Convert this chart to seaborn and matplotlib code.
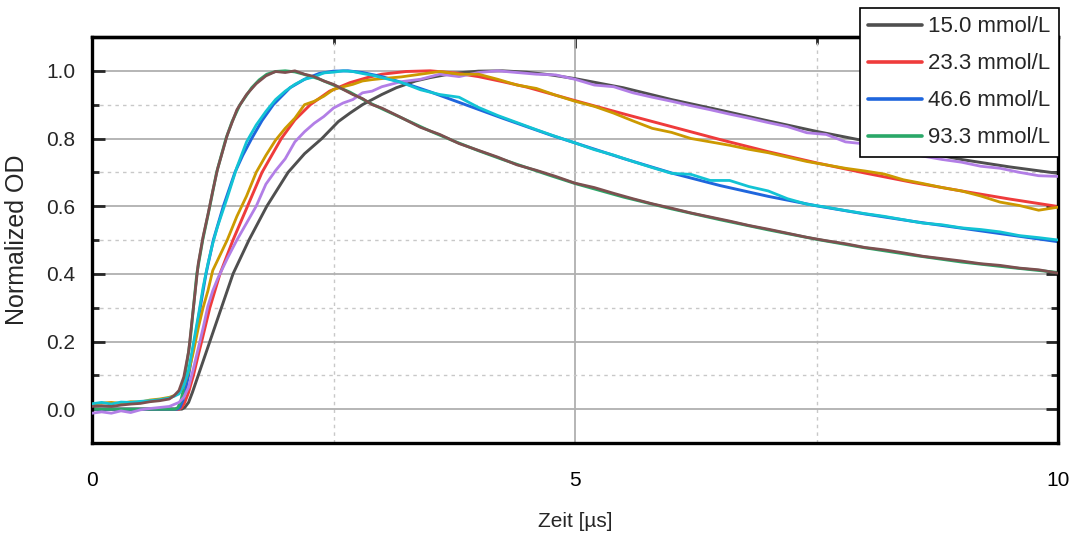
import matplotlib
matplotlib.use("Agg")
import matplotlib.pyplot as plt
from matplotlib import font_manager as fm
import seaborn as sns

# ---------------- data ----------------
labels = ["15.0 mmol/L", "23.3 mmol/L", "46.6 mmol/L", "93.3 mmol/L"]

# fitted curves (each with its own time grid, µs)
t_fit_150 = [0, 0.93, 0.96, 1.0, 1.04, 1.1, 1.16, 1.22, 1.34, 1.46, 1.625, 1.81, 2.03, 2.2, 2.38, 2.55, 2.67,
             2.8, 3.0, 3.15, 3.35, 3.5, 3.75, 4.0, 4.25, 4.5, 4.75, 5.0, 5.5, 6.0, 6.5, 7.0, 7.5, 8.0, 8.5,
             9.0, 9.5, 10.0]
v_fit_150 = [0, 0, 0.005, 0.02, 0.05, 0.1, 0.15, 0.2, 0.3, 0.4, 0.5, 0.6, 0.7, 0.755, 0.8, 0.85, 0.875,
             0.9, 0.93, 0.95, 0.97, 0.98, 0.993, 0.999, 1.0, 0.996, 0.988, 0.977, 0.95, 0.915, 0.884, 0.852,
             0.821, 0.793, 0.765, 0.738, 0.716, 0.697]

t_fit_233 = [0, 0.9, 0.93, 0.96, 1.0, 1.05, 1.1, 1.135, 1.22, 1.325, 1.46, 1.61, 1.76, 1.96, 2.1, 2.26, 2.46,
             2.67, 2.85, 3.0, 3.25, 3.5, 3.75, 4.0, 4.25, 4.5, 4.75, 5.0, 5.5, 6.0, 6.5, 7.0, 7.5, 8.0, 8.5,
             9.0, 9.5, 10.0]
v_fit_233 = [0, 0, 0.005, 0.02, 0.05, 0.1, 0.16, 0.2, 0.3, 0.4, 0.5, 0.6, 0.7, 0.8, 0.855, 0.9, 0.94,
             0.965, 0.98, 0.99, 0.998, 1.0, 0.994, 0.983, 0.968, 0.952, 0.932, 0.912, 0.873, 0.835, 0.797,
             0.761, 0.728, 0.698, 0.67, 0.645, 0.621, 0.599]

t_fit_466 = [0, 0.88, 0.91, 0.94, 0.97, 1.0, 1.03, 1.06, 1.12, 1.18, 1.256, 1.36, 1.48, 1.56, 1.653, 1.76,
             1.877, 2.05, 2.2, 2.35, 2.5, 2.65, 2.8, 3.0, 3.25, 3.5, 3.75, 4.0, 4.25, 4.5, 4.75, 5.0, 5.5,
             6.0, 6.5, 7.0, 7.5, 8.0, 8.5, 9.0, 9.5, 10.0]
v_fit_466 = [0, 0, 0.005, 0.025, 0.06, 0.1, 0.15, 0.2, 0.3, 0.4, 0.5, 0.6, 0.7, 0.75, 0.8, 0.853,
             0.9, 0.95, 0.975, 0.992, 0.999, 1.0, 0.995, 0.983, 0.962, 0.938, 0.912, 0.886, 0.86, 0.835,
             0.81, 0.787, 0.741, 0.698, 0.661, 0.629, 0.601, 0.577, 0.555, 0.535, 0.515, 0.495]

t_fit_933 = [0, 0.86, 0.89, 0.92, 0.94, 0.963, 0.99, 1.015, 1.05, 1.085, 1.146, 1.22, 1.29, 1.387, 1.45,
             1.532, 1.653, 1.73, 1.81, 1.9, 2.0, 2.1, 2.19, 2.35, 2.5, 2.67, 2.84, 3.0, 3.19, 3.5, 3.75,
             4.0, 4.25, 4.5, 4.75, 5.0, 5.5, 6.0, 6.5, 7.0, 7.5, 8.0, 8.5, 9.0, 9.5, 10.0]
v_fit_933 = [0, 0, 0.005, 0.025, 0.05, 0.1, 0.15, 0.2, 0.3, 0.4, 0.5, 0.6, 0.7, 0.8, 0.85,
             0.9, 0.95, 0.973, 0.99, 0.998, 1.0, 0.997, 0.99, 0.976, 0.958, 0.937, 0.91, 0.888, 0.863,
             0.822, 0.792, 0.764, 0.738, 0.714, 0.69, 0.667, 0.627, 0.592, 0.56, 0.53, 0.502, 0.477,
             0.455, 0.435, 0.419, 0.404]

# measured traces (shared time grid, µs)
t_data = [0, 0.1, 0.2, 0.3, 0.4, 0.5, 0.6, 0.7, 0.8, 0.85, 0.9, 0.95, 1.0, 1.05, 1.1, 1.15, 1.2, 1.25, 1.3,
          1.4, 1.5, 1.6, 1.7, 1.8, 1.9, 2.0, 2.1, 2.2, 2.3, 2.4, 2.5, 2.6, 2.7, 2.8, 2.9, 3.0,
          3.2, 3.4, 3.6, 3.8, 4.0, 4.2, 4.4, 4.6, 4.8, 5.0, 5.2, 5.4, 5.6, 5.8, 6.0, 6.2, 6.4, 6.6, 6.8,
          7.0, 7.2, 7.4, 7.6, 7.8, 8.0, 8.2, 8.4, 8.6, 8.8, 9.0, 9.2, 9.4, 9.6, 9.8, 10.0]

d_150 = [-0.012, -0.008, -0.012, -0.005, -0.01, -0.002, 0.002, 0.005, 0.008, 0.014, 0.02, 0.035, 0.065,
         0.12, 0.18, 0.24, 0.305, 0.35, 0.385,
         0.445, 0.5, 0.55, 0.6, 0.665, 0.705, 0.74, 0.79, 0.82, 0.845, 0.865, 0.89, 0.905, 0.915, 0.935,
         0.94, 0.953,
         0.968, 0.975, 0.99, 0.983, 0.995, 1.0, 0.995, 0.99, 0.988, 0.975, 0.958, 0.953, 0.935, 0.922, 0.91,
         0.897, 0.885, 0.872, 0.86, 0.847, 0.835, 0.817, 0.812, 0.79, 0.784, 0.775, 0.76, 0.748, 0.738,
         0.73, 0.718, 0.712, 0.7, 0.69, 0.688]

d_233 = [0.015, 0.018, 0.02, 0.017, 0.022, 0.021, 0.027, 0.03, 0.035, 0.04, 0.048, 0.07, 0.11, 0.17, 0.24,
         0.3, 0.35, 0.41, 0.44,
         0.5, 0.57, 0.63, 0.7, 0.75, 0.795, 0.83, 0.86, 0.9, 0.91, 0.925, 0.945, 0.953, 0.96, 0.97, 0.974,
         0.977,
         0.982, 0.99, 0.998, 0.99, 0.99, 0.975, 0.958, 0.948, 0.928, 0.91, 0.895, 0.875, 0.852, 0.83, 0.818,
         0.8, 0.79, 0.78, 0.768, 0.758, 0.745, 0.732, 0.722, 0.712, 0.704, 0.695, 0.678, 0.667, 0.655,
         0.645, 0.63, 0.612, 0.602, 0.588, 0.597]

d_466 = [0.016, 0.02, 0.015, 0.021, 0.02, 0.023, 0.025, 0.028, 0.033, 0.038, 0.045, 0.07, 0.115, 0.195,
         0.275, 0.36, 0.43, 0.49, 0.54,
         0.625, 0.715, 0.79, 0.84, 0.88, 0.915, 0.94, 0.96, 0.975, 0.982, 0.994, 0.996, 1.0, 0.998, 0.992,
         0.987, 0.98,
         0.966, 0.944, 0.93, 0.922, 0.892, 0.868, 0.847, 0.826, 0.806, 0.787, 0.767, 0.751, 0.732, 0.714,
         0.697, 0.694, 0.676, 0.676, 0.658, 0.645, 0.622, 0.606, 0.597, 0.587, 0.578, 0.57, 0.56, 0.55,
         0.545, 0.536, 0.531, 0.524, 0.513, 0.507, 0.5]

d_933 = [0.008, 0.01, 0.008, 0.012, 0.015, 0.017, 0.022, 0.025, 0.03, 0.04, 0.055, 0.095, 0.17, 0.3, 0.43,
         0.51, 0.575, 0.645, 0.71,
         0.81, 0.885, 0.93, 0.962, 0.985, 0.998, 0.995, 1.0, 0.99, 0.983, 0.97, 0.96, 0.945, 0.93, 0.918,
         0.9, 0.89,
         0.862, 0.833, 0.812, 0.785, 0.765, 0.745, 0.722, 0.706, 0.688, 0.668, 0.655, 0.638, 0.622, 0.607,
         0.594, 0.58, 0.568, 0.556, 0.543, 0.532, 0.52, 0.508, 0.498, 0.489, 0.478, 0.471, 0.462, 0.452,
         0.445, 0.438, 0.43, 0.425, 0.417, 0.412, 0.402]

x_ticks = [0, 5, 10]
x_minor = [2.5, 7.5]
y_ticks = [0.0, 0.2, 0.4, 0.6, 0.8, 1.0]
y_minor = [0.1, 0.3, 0.5, 0.7, 0.9]

fit_colors = ["#4f4f4f", "#ef3b3b", "#1f66dd", "#2aa868"]
data_colors = ["#b27ee6", "#cc9900", "#12c3d4", "#7d5050"]

# ---------------- style ----------------
sns.set_style("white")
names = {f.name for f in fm.fontManager.ttflist}
narrow = None
for cand in ["Liberation Sans Narrow", "Arial Narrow"]:
    if cand in names:
        narrow = cand
        break
base = narrow if narrow else "Liberation Sans"
plt.rcParams["font.family"] = [base, "DejaVu Sans"]

tick_fs = 17 if narrow else 15
leg_fs = 18 if narrow else 16

fig = plt.figure(figsize=(10.75, 5.39), dpi=100)
ax = fig.add_axes([92 / 1075, 1 - 443 / 539, (1058 - 92) / 1075, (443 - 37) / 539])

fits = [(t_fit_150, v_fit_150), (t_fit_233, v_fit_233), (t_fit_466, v_fit_466), (t_fit_933, v_fit_933)]
datas = [d_150, d_233, d_466, d_933]

for (tt, vv), c, lab in zip(fits, fit_colors, labels):
    sns.lineplot(x=tt, y=vv, ax=ax, color=c, lw=2.1, label=lab, sort=False, estimator=None, zorder=2)
for dd, c in zip(datas, data_colors):
    sns.lineplot(x=t_data, y=dd, ax=ax, color=c, lw=2.0, sort=False, estimator=None, zorder=3,
                 legend=False)

ax.set_xlim(0, 10)
ax.set_ylim(-0.1, 1.1)
ax.set_xticks(x_ticks)
ax.set_xticks(x_minor, minor=True)
ax.set_yticks(y_ticks)
ax.set_yticks(y_minor, minor=True)
ax.set_xticklabels([str(v) for v in x_ticks])
ax.set_yticklabels([f"{v:.1f}" for v in y_ticks])

ax.grid(which="major", color="#b0b0b0", lw=1.3, ls="-", zorder=0)
ax.grid(which="minor", color="#c8c8c8", lw=1.0, ls=(0, (2.5, 3)), zorder=0)
ax.set_axisbelow(True)

for s in ax.spines.values():
    s.set_visible(True)
    s.set_color("black")
    s.set_linewidth(2.4)

ax.tick_params(axis="x", which="major", direction="out", length=8, width=2, pad=12,
               labelsize=tick_fs, colors="black")
ax.tick_params(axis="x", which="minor", direction="out", length=5, width=2)
ax.tick_params(axis="y", which="major", direction="in", length=9, width=2, pad=12,
               labelsize=tick_fs, left=True, right=True)
ax.tick_params(axis="y", which="minor", direction="in", length=5, width=2, left=True, right=True)

top = ax.secondary_xaxis("top")
top.set_xticks(x_ticks)
top.set_xticks(x_minor, minor=True)
top.tick_params(which="major", direction="in", length=8, width=2, labeltop=False)
top.tick_params(which="minor", direction="in", length=5, width=2, labeltop=False)
top.spines["top"].set_linewidth(2.4)

ax.set_xlabel("Zeit [µs]", fontsize=tick_fs, labelpad=16)
ax.set_ylabel("Normalized OD", fontsize=18, labelpad=12, family=["Liberation Sans", "DejaVu Sans"])

leg = ax.legend(loc="upper right", bbox_to_anchor=(1059 / 1075, 1 - 8 / 539),
                bbox_transform=fig.transFigure, frameon=True, fancybox=False,
                edgecolor="black", framealpha=1, fontsize=leg_fs, handlelength=2.4,
                borderpad=0.38, labelspacing=0.72, handletextpad=0.3, borderaxespad=0)
leg.get_frame().set_linewidth(1.2)
for ln in leg.get_lines():
    ln.set_linewidth(2.6)

fig.savefig("out.png", dpi=100)
